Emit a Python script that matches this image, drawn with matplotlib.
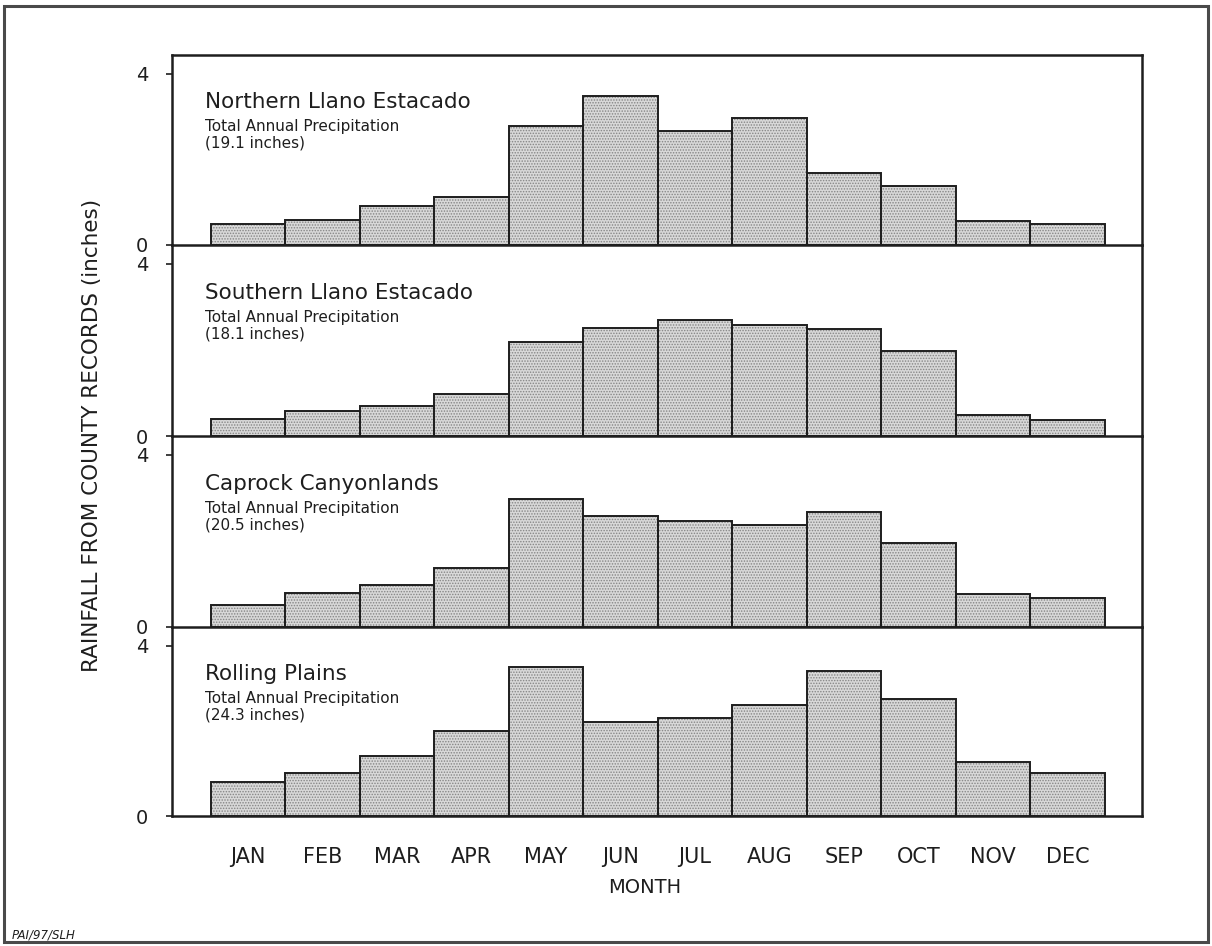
import matplotlib
matplotlib.use("Agg")
import matplotlib.pyplot as plt
from matplotlib.patches import Rectangle

plt.rcParams['font.family'] = ['DejaVu Sans']
plt.rcParams['hatch.linewidth'] = 0.7

# ---- data -------------------------------------------------------------
months = ["JAN", "FEB", "MAR", "APR", "MAY", "JUN",
          "JUL", "AUG", "SEP", "OCT", "NOV", "DEC"]

regions = ["Northern Llano Estacado", "Southern Llano Estacado",
           "Caprock Canyonlands", "Rolling Plains"]
annual_totals = ["19.1", "18.1", "20.5", "24.3"]

northern_llano = [0.49, 0.58, 0.90, 1.11, 2.77, 3.49, 2.67, 2.97, 1.68, 1.38, 0.57, 0.48]
southern_llano = [0.39, 0.59, 0.70, 0.98, 2.19, 2.50, 2.70, 2.59, 2.49, 1.98, 0.49, 0.37]
caprock_canyon = [0.50, 0.78, 0.98, 1.38, 2.97, 2.57, 2.47, 2.36, 2.67, 1.96, 0.77, 0.68]
rolling_plains = [0.80, 1.00, 1.40, 2.00, 3.50, 2.20, 2.30, 2.60, 3.40, 2.75, 1.27, 1.00]

series = [northern_llano, southern_llano, caprock_canyon, rolling_plains]
y_ticks = [0, 4]

# ---- layout -------------------------------------------------------------
W, H = 1212, 946
fig = plt.figure(figsize=(W / 100, H / 100), dpi=100)
fig.patch.set_facecolor("white")

left_px, right_px = 172.5, 1142.0
panel_tops = [55, 245, 436, 627]
panel_bottoms = [245, 436, 627, 816]

x = list(range(len(months)))
ink = "#1e1e1e"

for i, (name, total, vals) in enumerate(zip(regions, annual_totals, series)):
    top, bot = panel_tops[i], panel_bottoms[i]
    ax = fig.add_axes([left_px / W, 1 - bot / H,
                       (right_px - left_px) / W, (bot - top) / H])
    ax.set_facecolor("none")
    ax.set_xlim(-1.01, 12.0)
    ax.set_ylim(0, 4.44)

    # stippled fill, then crisp outlines
    ax.bar(x, vals, width=1.0, color="#d8d8d8", edgecolor="#858585",
           hatch="......", linewidth=0, zorder=2)
    ax.bar(x, vals, width=1.0, fill=False, edgecolor=ink,
           linewidth=1.4, zorder=3)

    for side in ["left", "right", "bottom", "top"]:
        ax.spines[side].set_color(ink)
        ax.spines[side].set_linewidth(1.8)
        ax.spines[side].set_zorder(5)
    if i > 0:
        ax.spines["top"].set_visible(False)

    ax.set_yticks(y_ticks)
    ax.set_yticklabels([str(t) for t in y_ticks])
    ax.tick_params(axis="y", direction="out", length=4.5, width=1.2,
                   pad=13, labelsize=14, colors=ink)

    if i == len(regions) - 1:
        ax.set_xticks(x)
        ax.set_xticklabels(months)
        ax.tick_params(axis="x", length=0, pad=22, labelsize=15, colors=ink)
    else:
        ax.set_xticks([])

    ax.text(0.034, 0.75, name, transform=ax.transAxes, va="center",
            ha="left", fontsize=15.5, color=ink)
    ax.text(0.034, 0.623, "Total Annual Precipitation", transform=ax.transAxes,
            va="center", ha="left", fontsize=11, color=ink)
    ax.text(0.034, 0.535, f"({total} inches)", transform=ax.transAxes,
            va="center", ha="left", fontsize=11, color=ink)

# axis titles
fig.text(92 / W, 1 - 435 / H, "RAINFALL FROM COUNTY RECORDS (inches)",
         rotation=90, va="center", ha="center", fontsize=15.5, color=ink)
fig.text(645 / W, 1 - 887 / H, "MONTH", va="center", ha="center",
         fontsize=14, color=ink)

# credit line
fig.text(12 / W, 1 - 935 / H, "PAI/97/SLH", va="center", ha="left",
         fontsize=8.5, style="italic", color=ink)

# outer page frame
fig.patches.append(Rectangle((4 / W, 4 / H), (1208 - 4) / W, (942 - 6) / H,
                             transform=fig.transFigure, fill=False,
                             edgecolor="#4a4a4a", linewidth=2.2))

fig.savefig("out.png", dpi=100, facecolor="white")
